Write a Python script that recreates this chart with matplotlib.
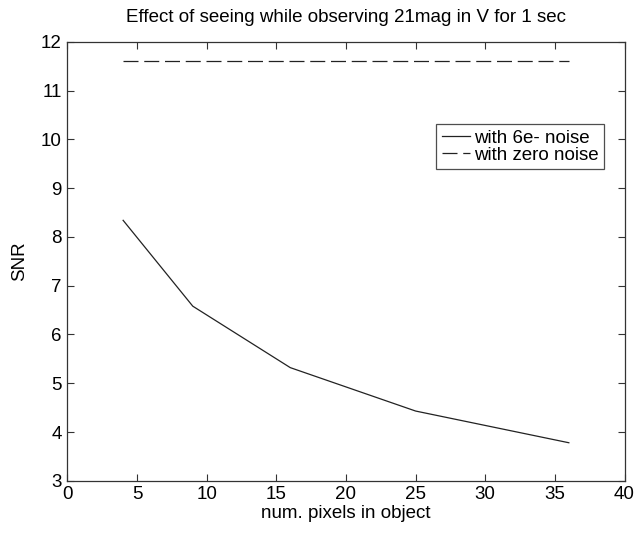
import numpy as np
import matplotlib
matplotlib.use("Agg")
import matplotlib.pyplot as plt

plt.rcParams['font.family'] = ['Liberation Sans', 'DejaVu Sans']

# number of pixels covered by the object
npix = [4, 9, 16, 25, 36]
# signal to noise with 6e- read noise
snr_noise = [8.34, 6.58, 5.32, 4.43, 3.78]
# signal to noise without read noise
snr_zero = [11.6, 11.6, 11.6, 11.6, 11.6]

fs = 13.5

fig = plt.figure(figsize=(6.36, 5.36), dpi=100)
ax = fig.add_axes([0.106, 0.103, 0.876, 0.819])

ax.plot(npix, snr_noise, color='#222222', lw=0.9, label='with 6e- noise')
l2, = ax.plot(npix, snr_zero, color='#222222', lw=0.9, label='with zero noise')
l2.set_dashes([12, 4.6])

ax.set_xlim(0, 40)
ax.set_ylim(3, 12)
ax.set_xticks(np.arange(0, 41, 5))
ax.set_yticks(np.arange(3, 13, 1))
ax.tick_params(direction='in', length=5, width=0.8, top=True, right=True,
               labelsize=fs, color='#333333', pad=4)
for s in ax.spines.values():
    s.set_color('#333333')
    s.set_linewidth(0.9)

ax.set_title('Effect of seeing while observing 21mag in V for 1 sec',
             fontsize=fs, pad=14)
ax.set_xlabel('num. pixels in object', fontsize=fs, labelpad=1)
ax.set_ylabel('SNR', fontsize=fs, labelpad=9)

leg = ax.legend(loc='upper right', bbox_to_anchor=(0.963, 0.813),
                fontsize=fs, frameon=True, fancybox=False, borderpad=0.3,
                labelspacing=0.0, handlelength=1.5, handletextpad=0.2,
                borderaxespad=0)
leg.get_frame().set_edgecolor('#222222')
leg.get_frame().set_linewidth(0.9)

fig.savefig('out.png', dpi=100)
